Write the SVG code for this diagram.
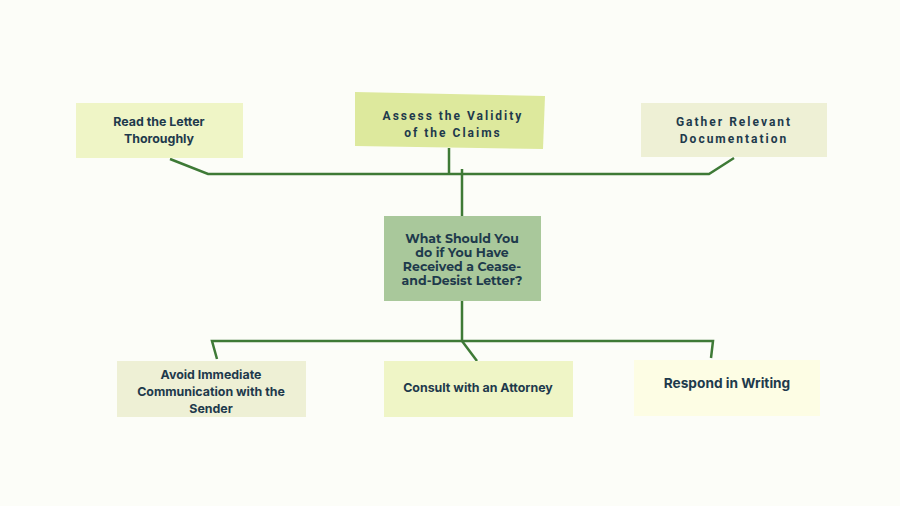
<svg xmlns="http://www.w3.org/2000/svg" width="900" height="506" viewBox="0 0 900 506">
<style>
.bg{fill:#fcfdf8}
.t{font-family:"Inter","Liberation Sans",sans-serif;font-weight:700;fill:#1e3a4c;text-anchor:middle}
.s{font-size:12.4px}
.sp{font-family:"Roboto","Liberation Sans",sans-serif;font-size:12px;letter-spacing:2px}
.c{font-family:"Montserrat","Noto Sans","Liberation Sans",sans-serif;font-size:12.5px}
.ln{fill:none;stroke:#3e7a36;stroke-width:2.5;stroke-linejoin:miter}
</style>
<rect class="bg" width="900" height="506"/>
<g id="connectors">
<polyline class="ln" points="170,159 208,174 709,174 734,158"/>
<line class="ln" x1="449" y1="148" x2="449" y2="174"/>
<line class="ln" x1="462" y1="169" x2="462" y2="216"/>
<line class="ln" x1="462" y1="301" x2="462" y2="341"/>
<polyline class="ln" points="217,359 212,341 713,341 711,358"/>
<line class="ln" x1="462" y1="341" x2="477" y2="361"/>
</g>
<g id="read">
<rect x="76" y="103" width="167" height="55" fill="#eff5c6"/>
<text class="t s" x="159" y="126">Read the Letter</text>
<text class="t s" x="159" y="143">Thoroughly</text>
</g>
<g id="assess">
<polygon points="355,92 545,96 543,149 355,146" fill="#dde99d"/>
<text class="t sp" x="453" y="120">Assess the Validity</text>
<text class="t sp" x="453" y="137">of the Claims</text>
</g>
<g id="gather">
<rect x="641" y="103" width="186" height="54" fill="#eef0d5"/>
<text class="t sp" x="734" y="126">Gather Relevant</text>
<text class="t sp" x="734" y="143">Documentation</text>
</g>
<g id="center">
<rect x="384" y="216" width="157" height="85" fill="#a9c89b"/>
<text class="t c" x="462" y="243">What Should You</text>
<text class="t c" x="462" y="257">do if You Have</text>
<text class="t c" x="462" y="271">Received a Cease-</text>
<text class="t c" x="462" y="285">and-Desist Letter?</text>
</g>
<g id="avoid">
<rect x="117" y="361" width="189" height="56" fill="#eef0d5"/>
<text class="t s" x="211" y="379">Avoid Immediate</text>
<text class="t s" x="211" y="396">Communication with the</text>
<text class="t s" x="211" y="413">Sender</text>
</g>
<g id="consult">
<rect x="384" y="361" width="189" height="56" fill="#eff5c6"/>
<text class="t s" x="478" y="392">Consult with an Attorney</text>
</g>
<g id="respond">
<rect x="634" y="360" width="186" height="56" fill="#fdfde4"/>
<text class="t" style="font-size:13.7px" x="727" y="388">Respond in Writing</text>
</g>
</svg>
